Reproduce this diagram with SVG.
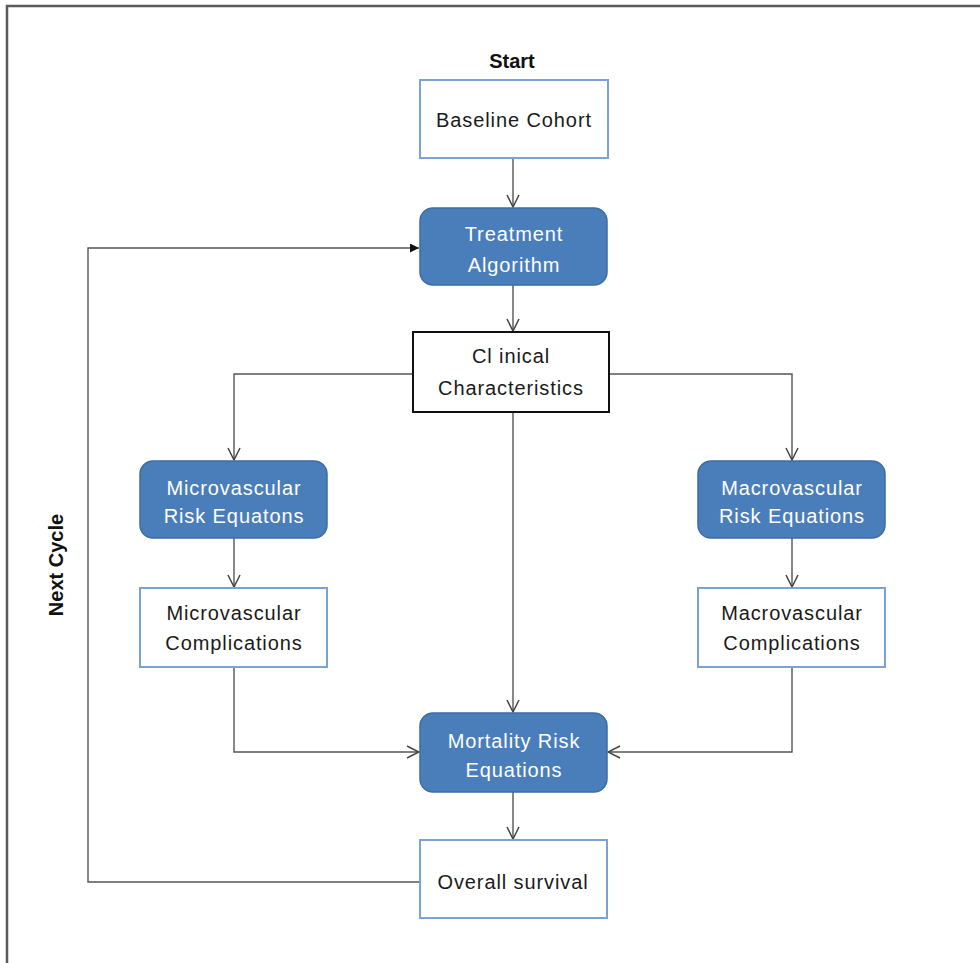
<svg xmlns="http://www.w3.org/2000/svg" width="980" height="963" viewBox="0 0 980 963">
<style>
.lbl{font-family:"Liberation Sans",Arial,sans-serif;font-size:20px;letter-spacing:0.9px;text-anchor:middle}
.dk{fill:#1a1a1a}
.wt{fill:#ffffff}
.white{fill:#ffffff;stroke:#7aa2d6;stroke-width:2}
.blue{fill:#4a7ebb;stroke:#3c6ca6;stroke-width:1.5}
.blk{fill:#ffffff;stroke:#111111;stroke-width:2}
.con{fill:none;stroke:#555555;stroke-width:1.4}
.bold{font-family:"Liberation Sans",Arial,sans-serif;font-size:20px;font-weight:bold;fill:#111111;text-anchor:middle}
</style>
<defs>
<marker id="open" viewBox="0 0 14 14" refX="13" refY="7" markerWidth="14" markerHeight="14" markerUnits="userSpaceOnUse" orient="auto">
<path d="M1,1 L13,7 L1,13" fill="none" stroke="#444444" stroke-width="1.5"/>
</marker>
<marker id="fill" viewBox="0 0 10 10" refX="10" refY="5" markerWidth="9" markerHeight="9" markerUnits="userSpaceOnUse" orient="auto">
<path d="M0,0 L10,5 L0,10 Z" fill="#111111"/>
</marker>
</defs>
<rect width="980" height="963" fill="#ffffff"/>
<polyline points="7,963 7,6 980,6" fill="none" stroke="#5a5a5a" stroke-width="2.5"/>
<text class="bold" x="512" y="68">Start</text>
<text class="bold" transform="translate(63,565) rotate(-90)">Next Cycle</text>
<g id="connectors">
<line class="con" x1="513" y1="158" x2="513" y2="207" marker-end="url(#open)"/>
<line class="con" x1="513" y1="285" x2="513" y2="331" marker-end="url(#open)"/>
<polyline class="con" points="413,374 234,374 234,460" marker-end="url(#open)"/>
<polyline class="con" points="609,374 792,374 792,460" marker-end="url(#open)"/>
<line class="con" x1="513" y1="412" x2="513" y2="712" marker-end="url(#open)"/>
<line class="con" x1="234" y1="538" x2="234" y2="587" marker-end="url(#open)"/>
<line class="con" x1="792" y1="538" x2="792" y2="587" marker-end="url(#open)"/>
<polyline class="con" points="234,667 234,752 419,752" marker-end="url(#open)"/>
<polyline class="con" points="792,667 792,752 608,752" marker-end="url(#open)"/>
<line class="con" x1="513" y1="792" x2="513" y2="839" marker-end="url(#open)"/>
<polyline class="con" points="420,882 88,882 88,248 419,248" marker-end="url(#fill)"/>
</g>
<g id="baseline">
<rect class="white" x="420" y="80" width="188" height="78"/>
<text class="lbl dk" x="514" y="127">Baseline Cohort</text>
</g>
<g id="treatment">
<rect class="blue" x="420" y="208" width="187" height="77" rx="13"/>
<text class="lbl wt" x="514" y="241">Treatment</text>
<text class="lbl wt" x="514" y="272">Algorithm</text>
</g>
<g id="clinical">
<rect class="blk" x="413" y="332" width="196" height="80"/>
<text class="lbl dk" x="511" y="363">Cl inical</text>
<text class="lbl dk" x="511" y="395">Characteristics</text>
</g>
<g id="micro-risk">
<rect class="blue" x="140" y="461" width="187" height="77" rx="13"/>
<text class="lbl wt" x="234" y="495">Microvascular</text>
<text class="lbl wt" x="234" y="523">Risk Equatons</text>
</g>
<g id="micro-comp">
<rect class="white" x="140" y="588" width="187" height="79"/>
<text class="lbl dk" x="234" y="620">Microvascular</text>
<text class="lbl dk" x="234" y="650">Complications</text>
</g>
<g id="macro-risk">
<rect class="blue" x="698" y="461" width="187" height="77" rx="13"/>
<text class="lbl wt" x="792" y="495">Macrovascular</text>
<text class="lbl wt" x="792" y="523">Risk Equations</text>
</g>
<g id="macro-comp">
<rect class="white" x="698" y="588" width="187" height="79"/>
<text class="lbl dk" x="792" y="620">Macrovascular</text>
<text class="lbl dk" x="792" y="650">Complications</text>
</g>
<g id="mortality">
<rect class="blue" x="420" y="713" width="187" height="79" rx="13"/>
<text class="lbl wt" x="514" y="748">Mortality Risk</text>
<text class="lbl wt" x="514" y="777">Equations</text>
</g>
<g id="survival">
<rect class="white" x="420" y="840" width="187" height="78"/>
<text class="lbl dk" x="513" y="889">Overall survival</text>
</g>
</svg>
